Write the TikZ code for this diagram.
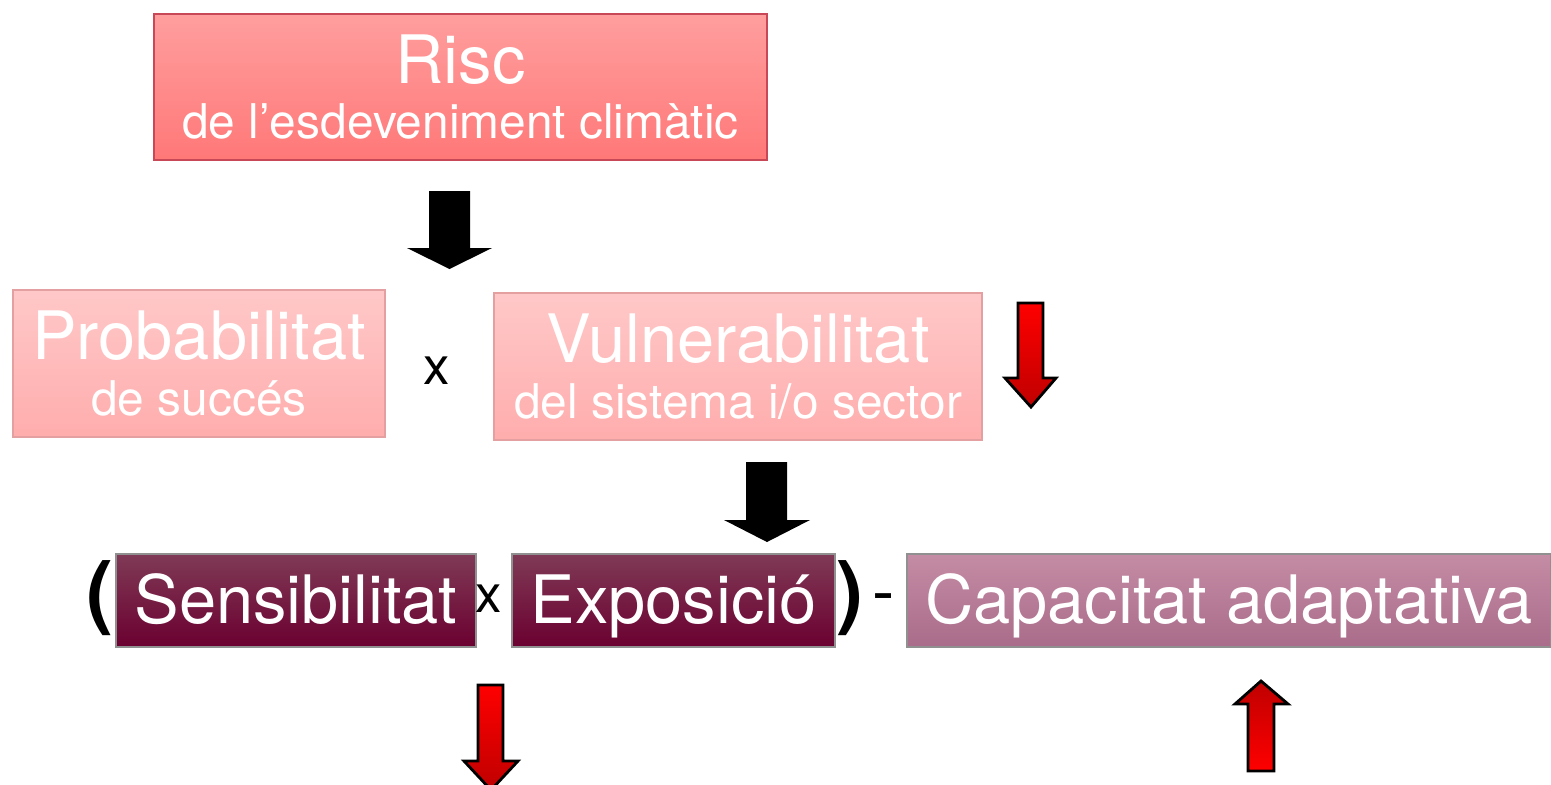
\documentclass[tikz,border=0pt]{standalone}
\usepackage{fontspec}
\setmainfont{TeX Gyre Heros}
\definecolor{risctop}{HTML}{FF9E9E}
\definecolor{riscbot}{HTML}{FF7878}
\definecolor{riscline}{HTML}{C84858}
\definecolor{factop}{HTML}{FFC8C8}
\definecolor{facbot}{HTML}{FFADAD}
\definecolor{facline}{HTML}{E4A0A0}
\definecolor{senstop}{HTML}{7F3A56}
\definecolor{sensbot}{HTML}{6B0030}
\definecolor{captop}{HTML}{C58CA5}
\definecolor{capbot}{HTML}{A96C8A}
\definecolor{boxline}{HTML}{909090}
\tikzset{
  riscbox/.style={rectangle,draw=riscline,top color=risctop,bottom color=riscbot,text=white,align=center,inner sep=0pt,
    font=\fontsize{13.6}{15.9}\selectfont},
  facbox/.style={riscbox,draw=facline,top color=factop,bottom color=facbot},
  sensbox/.style={rectangle,draw=boxline,top color=senstop,bottom color=sensbot,text=white,inner sep=0pt,
    minimum height=0.93cm,text height=13pt,text depth=0pt,font=\fontsize{19}{23}\selectfont},
  capbox/.style={sensbox,top color=captop,bottom color=capbot},
  sign/.style={inner sep=0pt,font=\fontsize{15}{18}\selectfont},
  paren/.style={inner sep=0pt,font=\bfseries\fontsize{23}{27}\selectfont},
  blackarrow/.style={fill=black},
  redarrow/.style={draw=black,line width=0.8pt,top color=red,bottom color=red!75!black},
  redup/.style={draw=black,line width=0.8pt,top color=red!75!black,bottom color=red}
}
\begin{document}
\begin{tikzpicture}[x=0.01cm,y=-0.01cm]
  \useasboundingbox (0,0) rectangle (1551,784);
  \node[riscbox,minimum width=6.13cm,minimum height=1.46cm] (risc) at (460.5,87)
    {{\fontsize{19}{23}\selectfont Risc}\\de l’esdeveniment climàtic};
  \node[facbox,minimum width=3.72cm,minimum height=1.47cm] (prob) at (199,363.5)
    {{\fontsize{19}{23}\selectfont Probabilitat}\\de succés};
  \node[facbox,minimum width=4.88cm,minimum height=1.47cm] (vuln) at (738,366.5)
    {{\fontsize{19}{23}\selectfont Vulnerabilitat}\\del sistema i/o sector};
  \node[sign] (x1) at (437,371) {x};
  \node[paren] (lpar) at (100,598) {(};
  \node[sensbox,minimum width=3.6cm] (sens) at (296,600.5) {Sensibilitat};
  \node[sign] (x2) at (489,599) {x};
  \node[sensbox,minimum width=3.23cm] (expo) at (673.5,600.5) {Exposició};
  \node[paren] (rpar) at (850,598) {)};
  \node[sign,font=\fontsize{19}{23}\selectfont] (minus) at (884,604) {-};
  \node[capbox,minimum width=6.44cm] (cap) at (1229,600.5) {Capacitat adaptativa};
  \fill[blackarrow] (429,191) -- (470,191) -- (470,248) -- (492,248) -- (449.5,269)
    -- (407,248) -- (429,248) -- cycle;
  \fill[blackarrow] (746,462) -- (787,462) -- (787,520) -- (810,520) -- (767,542)
    -- (724,520) -- (746,520) -- cycle;
  \draw[redarrow] (1018,303) -- (1043,303) -- (1043,378) -- (1056,378) -- (1031,407)
    -- (1005,378) -- (1018,378) -- cycle;
  \draw[redarrow] (478,685) -- (503,685) -- (503,761) -- (518,761) -- (491,790)
    -- (464,761) -- (478,761) -- cycle;
  \draw[redup] (1248,771) -- (1274,771) -- (1274,704) -- (1288,704) -- (1261,681)
    -- (1235,704) -- (1248,704) -- cycle;
\end{tikzpicture}
\end{document}
